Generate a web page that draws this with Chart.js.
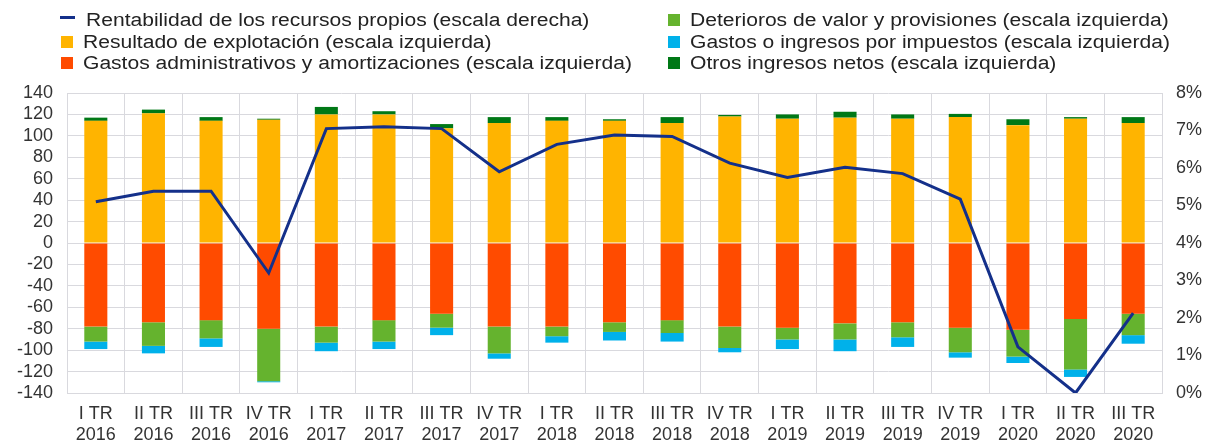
<!DOCTYPE html>
<html>
<head>
<meta charset="utf-8">
<script src="https://cdn.jsdelivr.net/npm/chart.js@4.4.1/dist/chart.umd.min.js"></script>
<style>
  html, body { margin: 0; padding: 0; background: #fff; }
  #wrap { position: relative; width: 1206px; height: 445px; }
  #legend { position: absolute; left: 0; top: 0; width: 1206px; height: 80px; font-family: "Liberation Sans", Arial, sans-serif; font-size: 18px; color: #222; }
  .item { position: absolute; white-space: nowrap; line-height: 20px; }
  .sw { position: absolute; width: 12px; height: 12px; top: 4px; }
  .dash { position: absolute; width: 15px; height: 3px; top: 6px; }
  .txt { position: absolute; top: 0; transform: scaleX(1.17); transform-origin: 0 50%; }
</style>
</head>
<body>
<div id="wrap">
  <canvas id="c" width="1206" height="445"></canvas>
  <div id="legend"></div>
</div>
<script>
const categories = [
  ["I TR","2016"],["II TR","2016"],["III TR","2016"],["IV TR","2016"],
  ["I TR","2017"],["II TR","2017"],["III TR","2017"],["IV TR","2017"],
  ["I TR","2018"],["II TR","2018"],["III TR","2018"],["IV TR","2018"],
  ["I TR","2019"],["II TR","2019"],["III TR","2019"],["IV TR","2019"],
  ["I TR","2020"],["II TR","2020"],["III TR","2020"]
];
const resultadoExplotacion = [114,121,114,115,120,120,107,112,114,114,112,118,116,117,116,117.5,110,116,112];
const gastosAdministrativos = [-78,-74,-72,-80,-78,-72,-66,-78,-78,-74,-72,-78,-79,-75,-74,-79,-81,-71,-66];
const deterioros = [-14,-22,-17,-49,-15,-20,-13,-25,-9,-9,-12,-20,-11,-15,-14,-23,-25,-47,-20];
const impuestos = [-7,-7,-8,-1,-8,-7,-7,-5,-6,-8,-8,-4,-9,-11,-9,-5,-6,-7,-8];
const otrosIngresos = [3,3.5,3.5,1,7,3,4,5.5,3.5,1.5,5.5,1.5,4,5.5,4,3,5.5,1.5,5.5];
const rentabilidad = [5.1,5.38,5.38,3.2,7.05,7.1,7.05,5.9,6.63,6.88,6.84,6.13,5.75,6.02,5.85,5.17,1.23,0.0,2.13];
const leftTicks = { min: -140, max: 140, step: 20 };
const rightTicks = { min: 0, max: 8, step: 1 };

const C = {
  navy: '#14308a', yellow: '#FFB400', red: '#FF4B00', lgreen: '#65B32E', blue: '#00B1EA', dgreen: '#007816'
};

const legendItems = [
  { text: 'Rentabilidad de los recursos propios (escala derecha)', color: C.navy, line: true, x: 60, y: 10 },
  { text: 'Resultado de explotación (escala izquierda)', color: C.yellow, x: 61, y: 32 },
  { text: 'Gastos administrativos y amortizaciones (escala izquierda)', color: C.red, x: 61, y: 53 },
  { text: 'Deterioros de valor y provisiones (escala izquierda)', color: C.lgreen, x: 668, y: 10 },
  { text: 'Gastos o ingresos por impuestos (escala izquierda)', color: C.blue, x: 668, y: 32 },
  { text: 'Otros ingresos netos (escala izquierda)', color: C.dgreen, x: 668, y: 53 }
];
const lg = document.getElementById('legend');
legendItems.forEach(it => {
  const d = document.createElement('div');
  d.className = 'item';
  d.style.left = it.x + 'px';
  d.style.top = it.y + 'px';
  const s = document.createElement('span');
  s.className = it.line ? 'dash' : 'sw';
  s.style.background = it.color;
  s.style.left = '0px';
  d.appendChild(s);
  const t = document.createElement('span');
  t.className = 'txt';
  t.textContent = it.text;
  t.style.left = (it.line ? 26 : 22) + 'px';
  d.appendChild(t);
  lg.appendChild(d);
});

const gridColor = '#d9d9de';
const font = { family: '"Liberation Sans", Arial, sans-serif', size: 18 };
const barCommon = { yAxisID: 'y', stack: 's', barPercentage: 0.4, categoryPercentage: 1.0, order: 1 };

new Chart(document.getElementById('c'), {
  data: {
    labels: categories,
    datasets: [
      { type: 'line', label: 'Rentabilidad', data: rentabilidad, yAxisID: 'y1', borderColor: C.navy, borderWidth: 3, pointRadius: 0, tension: 0, fill: false, order: 0 },
      Object.assign({ type: 'bar', label: 'Resultado', data: resultadoExplotacion, backgroundColor: C.yellow }, barCommon),
      Object.assign({ type: 'bar', label: 'Gastos adm', data: gastosAdministrativos, backgroundColor: C.red }, barCommon),
      Object.assign({ type: 'bar', label: 'Deterioros', data: deterioros, backgroundColor: C.lgreen }, barCommon),
      Object.assign({ type: 'bar', label: 'Impuestos', data: impuestos, backgroundColor: C.blue }, barCommon),
      Object.assign({ type: 'bar', label: 'Otros', data: otrosIngresos, backgroundColor: C.dgreen }, barCommon)
    ]
  },
  options: {
    responsive: false,
    animation: false,
    layout: { padding: { top: 93, left: 0, right: 0, bottom: 0 } },
    plugins: { legend: { display: false }, tooltip: { enabled: false } },
    scales: {
      x: {
        stacked: true,
        grid: { color: gridColor, offset: true, drawTicks: false },
        border: { color: gridColor },
        ticks: { color: '#333', font: font, padding: 10, maxRotation: 0, autoSkip: false },
        afterFit: s => { s.height = 52; }
      },
      y: {
        stacked: true, position: 'left',
        min: leftTicks.min, max: leftTicks.max,
        grid: { color: gridColor, drawTicks: false },
        border: { color: gridColor },
        ticks: { stepSize: leftTicks.step, color: '#333', font: font, padding: 14, autoSkip: false },
        afterFit: s => { s.width = 67; }
      },
      y1: {
        position: 'right',
        min: rightTicks.min, max: rightTicks.max,
        grid: { drawOnChartArea: false, drawTicks: false },
        border: { color: gridColor },
        ticks: { stepSize: rightTicks.step, color: '#333', font: font, padding: 14, autoSkip: false, callback: v => v + '%' },
        afterFit: s => { s.width = 44; }
      }
    }
  }
});
</script>
</body>
</html>
